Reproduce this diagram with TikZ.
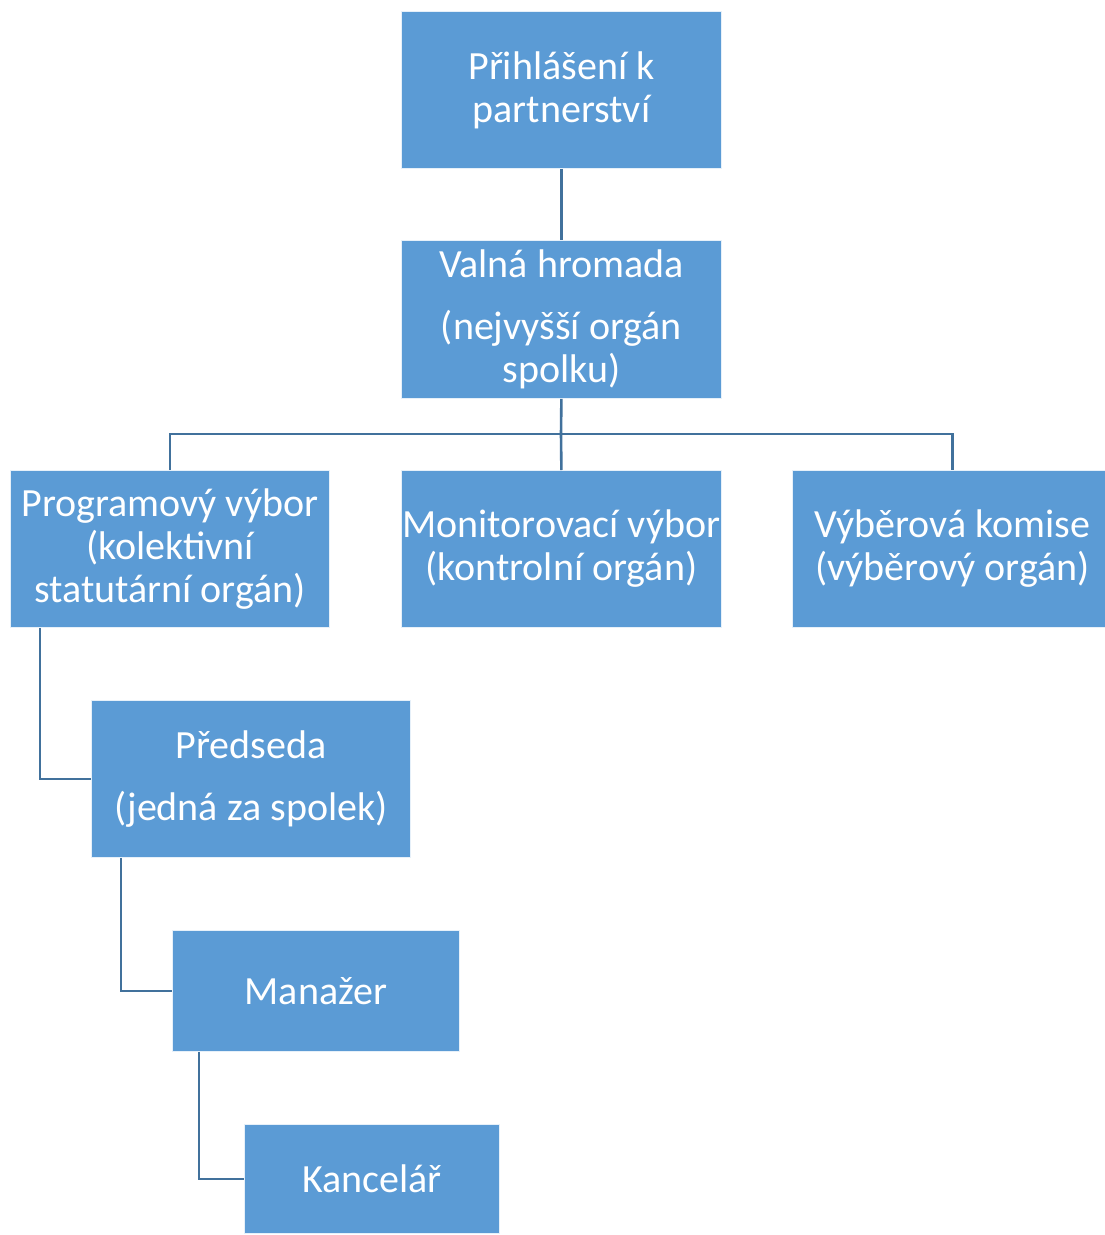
\documentclass[tikz,border=0pt]{standalone}
\usepackage{fontspec}
\setmainfont{Carlito}
\usepackage{tikz}
\usetikzlibrary{calc, positioning}

\definecolor{boxblue}{HTML}{5B9BD5}
\definecolor{linkblue}{HTML}{41719C}

\begin{document}
\begin{tikzpicture}[x=1pt, y=-1pt,
    orgbox/.style={anchor=north west, fill=boxblue, draw=white!85!boxblue, line width=0.8pt,
      text=white, align=center, inner sep=0pt,
      font=\fontsize{40}{43}\selectfont},
    link/.style={draw=linkblue, line width=2.6pt}]
  \useasboundingbox (0,0) rectangle (1105,1235);

  \node[orgbox, minimum width=320, minimum height=157] (prihl) at (401,11) {Přihlášení k\\partnerství};
  \node[orgbox, minimum width=320, minimum height=158] (valna) at (401,240) {Valná hromada\\[19pt](nejvyšší orgán\\spolku)};

  \node[orgbox, minimum width=319, minimum height=157] (prog) at (10,470) {Programový výbor\\(kolektivní\\statutární orgán)};
  \node[orgbox, minimum width=320, minimum height=157] (monit) at (401,470) {Monitorovací výbor\\(kontrolní orgán)};
  \node[orgbox, minimum width=320, minimum height=157] (vyber) at (792,470) {Výběrová komise\\(výběrový orgán)};

  \node[orgbox, minimum width=319, minimum height=157] (predseda) at (91,700) {Předseda\\[19pt](jedná za spolek)};
  \node[orgbox, minimum width=287, minimum height=121] (manazer) at (172,930) {Manažer};
  \node[orgbox, minimum width=255, minimum height=109] (kanc) at (244,1124) {Kancelář};

  % spojnice
  \coordinate (bus) at (561,434);
  \draw[link] (prihl.south) -- (valna.north);
  \draw[link] (valna.south) -- (bus);
  \draw[link] (prog.north) |- (bus) -| (vyber.north);
  \draw[link] (bus) -- (monit.north);

  \draw[link] ([xshift=30]prog.south west) |- (predseda.west);
  \draw[link] ([xshift=30]predseda.south west) |- (manazer.west);
  \draw[link] ([xshift=27]manazer.south west) |- (kanc.west);
\end{tikzpicture}
\end{document}
